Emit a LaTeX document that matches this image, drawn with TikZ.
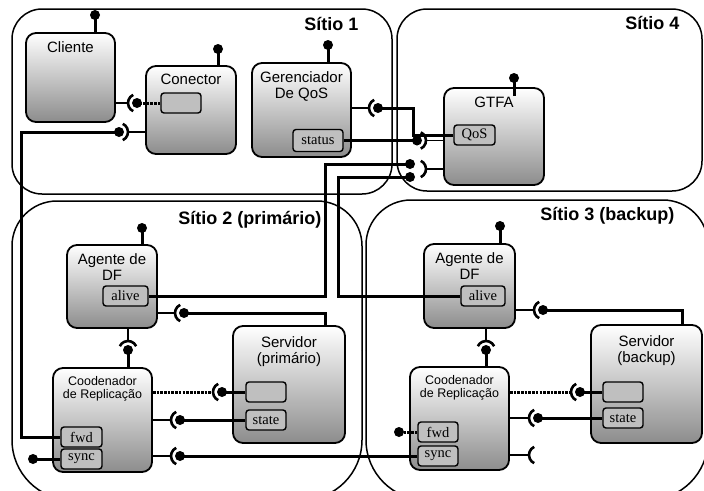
\documentclass[tikz,border=0pt]{standalone}
\usepackage{fontspec}
\setmainfont{Liberation Serif}
\setsansfont{Liberation Sans}
\usetikzlibrary{calc}
\usetikzlibrary{positioning}

\begin{document}
\begin{tikzpicture}[x=1pt,y=1pt,
	site/.style={line width=1.5pt},
	sitio/.style={anchor=east,font=\sffamily\bfseries\fontsize{18}{20}\selectfont},
	comp/.style={draw,line width=1.8pt,rounded corners=10pt,top color=white,bottom color=black!45,inner sep=0pt},
	porta/.style={draw,line width=1.4pt,rounded corners=3pt,fill=black!25,inner sep=0pt,minimum width=40pt,minimum height=20pt,font=\fontsize{14.5}{16}\selectfont},
	nome/.style={anchor=north,inner sep=0pt,yshift=-9pt,align=center,font=\sffamily\fontsize{15}{16.5}\selectfont},
	nomep/.style={nome,font=\sffamily\fontsize{12.5}{13.5}\selectfont},
	prov/.style={line width=3pt},
	req/.style={line width=1.3pt},
	reqd/.style={line width=3pt,dash pattern=on 2.6pt off 1.1pt},
	sock/.style={line width=2.6pt}]
	\useasboundingbox (0,0) rectangle (704,-490);
	\clip (0,0) rectangle (704,-490);

	\draw[site,rounded corners=30pt] (12,-9) rectangle (392,-194);
	\draw[site,rounded corners=30pt] (397,-9) rectangle (702,-191);
	\draw[site,rounded corners=45pt] (12,-350) |- (362,-201) -- (362,-350);
	\draw[site,rounded corners=60pt] (12,-350) |- (362,-500) -- (362,-350);
	\draw[site,rounded corners=45pt] (366,-350) |- (708,-200) -- (708,-350);
	\draw[site,rounded corners=60pt] (366,-350) |- (708,-500) -- (708,-350);
	\node[sitio] (s1) at (362,-24) {Sítio 1};
	\node[sitio] (s4) at (683,-23) {Sítio 4};
	\node[sitio] (s2) at (325,-220) {Sítio 2 (primário)};
	\node[sitio] (s3) at (678,-216) {Sítio 3 (backup)};

	\node[comp,minimum width=89pt,minimum height=89pt,label={[nome]north:Cliente}] (cliente) at (70.5,-77.5) {};
	\node[comp,minimum width=90pt,minimum height=88pt,label={[nome]north:Conector}] (conector) at (191,-110) {};
	\node[porta] (conbox) at (181,-103) {};
	\node[comp,minimum width=99pt,minimum height=94pt,label={[nome]north:{Gerenciador\\De QoS}}] (gerente) at (301.5,-110) {};
	\node[porta,minimum width=50pt,minimum height=22pt] (status) at (318,-140.5) {status};
	\node[comp,minimum width=100pt,minimum height=97pt,label={[nome,yshift=-1pt]north:GTFA}] (gtfa) at (494,-136.5) {};
	\node[porta,minimum width=41pt] (qos) at (474.5,-135) {QoS};

	\node[comp,minimum width=90pt,minimum height=83pt,label={[nome]north:{Agente de\\DF}}] (agente2) at (112,-286.5) {};
	\node[porta,minimum width=45pt] (alive2) at (125.5,-296) {alive};
	\node[comp,minimum width=112pt,minimum height=117pt,label={[nome,yshift=-2pt]north:{Servidor\\(primário)}}] (servidor2) at (289,-384.5) {};
	\node[porta] (vazio2) at (266,-392) {};
	\node[porta] (state2) at (266,-420) {state};
	\node[comp,minimum width=99pt,minimum height=104pt,label={[nomep]north:{Coodenador\\de Replicação}}] (coord2) at (102.5,-420) {};
	\node[porta,minimum width=41pt] (fwd2) at (81.5,-437) {fwd};
	\node[porta,minimum width=41pt] (sync2) at (81.5,-459) {sync};

	\node[comp,minimum width=91pt,minimum height=84pt,label={[nome]north:{Agente de\\DF}}] (agente3) at (469.5,-286) {};
	\node[porta,minimum width=44pt] (alive3) at (483,-296) {alive};
	\node[comp,minimum width=111pt,minimum height=118pt,label={[nome,yshift=-2pt]north:{Servidor\\(backup)}}] (servidor3) at (646.5,-384) {};
	\node[porta] (vazio3) at (623,-392) {};
	\node[porta] (state3) at (623,-418) {state};
	\node[comp,minimum width=99pt,minimum height=103pt,label={[nomep]north:{Coodenador\\de Replicação}}] (coord3) at (459.5,-418.5) {};
	\node[porta] (fwd3) at (438,-432) {fwd};
	\node[porta] (sync3) at (438,-456) {sync};

	\coordinate (b1) at (137,-103);
	\coordinate (b2) at (119,-132);
	\coordinate (b3) at (378,-108);
	\coordinate (b4) at (417,-140.5);
	\coordinate (s5) at (417,-169);
	\coordinate (b5a) at (410,-164);
	\coordinate (b5b) at (410,-177);
	\coordinate (b6) at (184,-313);
	\coordinate (b7) at (128,-350);
	\coordinate (b8) at (222,-392);
	\coordinate (b9) at (180,-420);
	\coordinate (b10) at (180,-456);
	\coordinate (b11) at (33,-459);
	\coordinate (b12) at (543,-310);
	\coordinate (b13) at (486,-350);
	\coordinate (b14) at (580,-392);
	\coordinate (b15) at (538,-418);
	\coordinate (s16) at (538,-455);
	\coordinate (b17) at (399,-432);
	\coordinate (p1) at (95,-15);
	\coordinate (p2) at (218,-49);
	\coordinate (p3) at (328,-45);
	\coordinate (p4) at (514,-78);
	\coordinate (p5) at (142,-228);
	\coordinate (p6) at (500,-226);

	\foreach \n/\p in {cliente/p1,conector/p2,gerente/p3,agente2/p5,agente3/p6}
		\draw[prov] (\n.north -| \p) -- (\p);
	\draw[prov] ($(gtfa.north -| p4)+(0,-9)$) -- (p4);

	\draw[req] (cliente.east |- b1) -- ($(b1)+(-9,0)$);
	\draw[reqd] (conbox.west) -- (b1);
	\draw[req] (conector.west |- b2) -- ($(b2)+(9,0)$);
	\draw[prov] (fwd2.west) -- ++(-39,0) |- (b2);
	\draw[req] (gerente.east |- b3) -- ($(b3)+(-9,0)$);
	\draw[prov] (qos.west) -- ++(-39.5,0) |- (b3);
	\draw[req] (gtfa.west |- b4) -- ($(b4)+(9,0)$);
	\draw[prov] (status.east) -- (b4);
	\draw[req] (gtfa.west |- s5) -- ($(s5)+(9,0)$);
	\draw[prov] (alive2.east) -- ++(177,0) |- (b5a);
	\draw[prov] (alive3.west) -- ++(-122,0) |- (b5b);

	\draw[req] (agente2.east |- b6) -- ($(b6)+(-9,0)$);
	\draw[prov] ($(servidor2.north east)+(-20,0)$) |- (b6);
	\draw[req] (agente2.south -| b7) -- ($(b7)+(0,9)$);
	\draw[prov] (coord2.north -| b7) -- (b7);
	\draw[reqd] (coord2.east |- b8) -- ($(b8)+(-9,0)$);
	\draw[prov] (vazio2.west) -- (b8);
	\draw[req] (coord2.east |- b9) -- ($(b9)+(-9,0)$);
	\draw[prov] (state2.west) -- (b9);
	\draw[req] (coord2.east |- b10) -- ($(b10)+(-9,0)$);
	\draw[prov] (sync3.west) -- (b10);
	\draw[prov] (sync2.west) -- (b11);

	\draw[req] (agente3.east |- b12) -- ($(b12)+(-9,0)$);
	\draw[prov] ($(servidor3.north east)+(-20.5,0)$) |- (b12);
	\draw[req] (agente3.south -| b13) -- ($(b13)+(0,9)$);
	\draw[prov] (coord3.north -| b13) -- (b13);
	\draw[reqd] (coord3.east |- b14) -- ($(b14)+(-9,0)$);
	\draw[prov] (vazio3.west) -- (b14);
	\draw[req] (coord3.east |- b15) -- ($(b15)+(-9,0)$);
	\draw[prov] (state3.west) -- (b15);
	\draw[req] (coord3.east |- s16) -- ($(s16)+(-9,0)$);
	\draw[reqd] (fwd3.west) -- (b17);

	\foreach \s/\a in {b1/180,b2/0,b3/180,b4/0,s5/0,b6/180,b7/90,b8/180,b9/180,b10/180,b12/180,b13/90,b14/180,b15/180,s16/180}
		\draw[sock] ($(\s)+({\a-65}:9)$) arc[start angle={\a-65},delta angle=130,radius=9];
	\foreach \b in {b1,b2,b3,b4,b5a,b5b,b6,b7,b8,b9,b10,b11,b12,b13,b14,b15,b17,p1,p2,p3,p4,p5,p6}
		\fill (\b) circle (5);
\end{tikzpicture}
\end{document}
